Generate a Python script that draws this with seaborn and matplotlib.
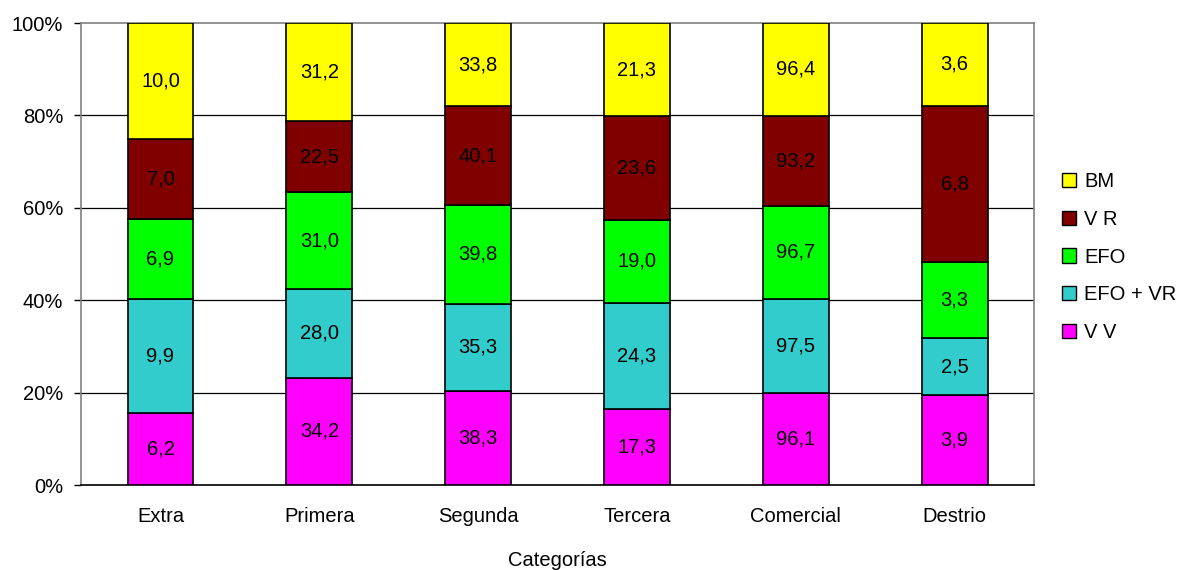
import numpy as np
import matplotlib
matplotlib.use("Agg")
import matplotlib.pyplot as plt
from matplotlib.patches import Patch
import seaborn as sns

categorias = ["Extra", "Primera", "Segunda", "Tercera", "Comercial", "Destrio"]
series = ["V V", "EFO + VR", "EFO", "V R", "BM"]
vv = [6.2, 34.2, 38.3, 17.3, 96.1, 3.9]
efo_vr = [9.9, 28.0, 35.3, 24.3, 97.5, 2.5]
efo = [6.9, 31.0, 39.8, 19.0, 96.7, 3.3]
v_r = [7.0, 22.5, 40.1, 23.6, 93.2, 6.8]
bm = [10.0, 31.2, 33.8, 21.3, 96.4, 3.6]
colores = ["#FF00FF", "#33CCCC", "#00FF00", "#800000", "#FFFF00"]

sns.set_theme(style="white")
plt.rcParams["font.family"] = ["Liberation Sans", "DejaVu Sans"]
plt.rcParams.update({
    "text.color": "black",
    "axes.labelcolor": "black",
    "xtick.color": "black",
    "ytick.color": "black",
})

FS = 14.5

valores = np.array([vv, efo_vr, efo, v_r, bm])
totales = valores.sum(axis=0)
cuotas = valores / totales * 100

fig = plt.figure(figsize=(11.92, 5.70), dpi=100)
ax = fig.add_axes([0.068, 0.149, 0.7995, 0.8106])

base = np.zeros(len(categorias))
for i, nombre in enumerate(series):
    sns.barplot(x=categorias, y=cuotas[i], bottom=base, color=colores[i],
                width=0.415, edgecolor="black", linewidth=1.2,
                saturation=1, ax=ax, zorder=3)
    for j in range(len(categorias)):
        ax.text(j, base[j] + cuotas[i][j] / 2,
                f"{valores[i][j]:.1f}".replace(".", ","),
                ha="center", va="center", fontsize=FS, color="black", zorder=4)
    base = base + cuotas[i]

ax.set_ylim(0, 100)
ax.set_xlim(-0.5, len(categorias) - 0.5)
ax.set_yticks(range(0, 101, 20))
ax.set_yticklabels([f"{t}%" for t in range(0, 101, 20)], fontsize=FS)
ax.tick_params(axis="x", labelsize=FS, length=0, pad=16, labelcolor="black")
ax.tick_params(axis="y", length=5, width=1, color="black", left=True, pad=8,
               labelcolor="black")
for y in range(20, 100, 20):
    ax.axhline(y, color="black", linewidth=0.9, zorder=1)
for s in ["top", "right", "left"]:
    ax.spines[s].set_color("#808080")
    ax.spines[s].set_linewidth(1.2)
ax.spines["bottom"].set_color("black")
ax.spines["bottom"].set_linewidth(1.2)
ax.set_xlabel("Categorías", fontsize=FS, labelpad=18, color="black")
ax.set_ylabel("")

handles = [Patch(facecolor=colores[i], edgecolor="black", label=series[i])
           for i in range(len(series) - 1, -1, -1)]
fig.legend(handles=handles, loc="center left", bbox_to_anchor=(0.876, 0.549),
           frameon=False, fontsize=FS, handlelength=0.7, handleheight=0.7,
           handletextpad=0.4, labelspacing=0.93, labelcolor="black")

fig.savefig("out.png", dpi=100, facecolor="white")
